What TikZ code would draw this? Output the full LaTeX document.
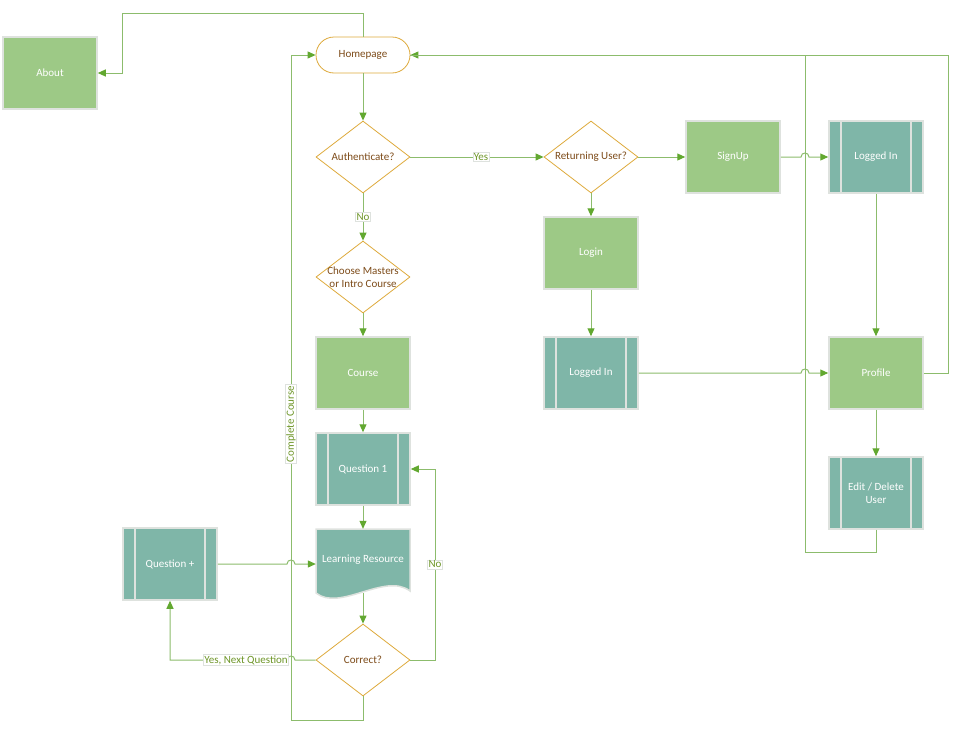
\documentclass[tikz,border=0pt]{standalone}
\usepackage{fontspec}
\setmainfont{Carlito}
\usetikzlibrary{shapes.geometric,arrows.meta}
\definecolor{boxg}{RGB}{157,201,134}
\definecolor{teal2}{RGB}{127,182,168}
\definecolor{edgeg}{RGB}{222,226,222}
\definecolor{dorange}{RGB}{222,170,60}
\definecolor{dtext}{RGB}{125,75,25}
\definecolor{lineg}{RGB}{140,188,108}
\definecolor{tipg}{RGB}{98,168,48}
\definecolor{lblc}{RGB}{110,150,40}
\begin{document}
\begin{tikzpicture}[x=1pt,y=-1pt, font=\fontsize{11}{13.5}\selectfont,
 proc/.style={rectangle, fill=boxg, draw=edgeg, line width=1.5pt, minimum width=94pt, minimum height=72pt, text=white, inner sep=1pt, align=center},
 pred/.style={proc, fill=teal2, path picture={\draw[edgeg, line width=1.3pt] ([xshift=12pt]path picture bounding box.north west) -- ([xshift=12pt]path picture bounding box.south west) ([xshift=-12pt]path picture bounding box.north east) -- ([xshift=-12pt]path picture bounding box.south east);}},
 decision/.style={diamond, aspect=1.3, draw=dorange, fill=white, line width=0.8pt, minimum width=94pt, minimum height=72pt, inner sep=0pt, text=dtext, align=center},
 term/.style={rectangle, rounded corners=18pt, draw=dorange, fill=white, line width=0.8pt, minimum width=94pt, minimum height=36pt, text=dtext},
 conn/.style={draw=lineg, line width=1pt, -{Triangle[length=8pt,width=7pt,color=tipg]}},
 plainc/.style={draw=lineg, line width=1pt},
 lbl/.style={fill=white, draw=edgeg, line width=0.6pt, inner sep=1pt, text=lblc}]
\useasboundingbox (0,0) rectangle (959,731);

% nodes
\node[proc] (about) at (50,73) {About};
\node[term] (home) at (363,55) {Homepage};
\node[decision] (auth) at (363,157) {Authenticate?};
\node[decision] (choose) at (363,277) {};
\node[align=center, text=dtext, inner sep=0pt] (choosetxt) at (choose) {Choose Masters\\or Intro Course};
\node[proc] (course) at (363,373) {Course};
\node[pred] (q1) at (363,469) {Question 1};
\path[fill=teal2, draw=edgeg, line width=1.5pt] (316,529) -- (410,529) -- (410,591) .. controls (385,572) and (340,612) .. (316,593) -- cycle;
\node[inner sep=0pt, minimum width=94pt, minimum height=64pt, text=white] (lr) at (363,561) {\raisebox{5pt}{Learning Resource}};
\node[decision] (cor) at (363,660) {Correct?};
\node[pred] (qp) at (170,564) {Question +};
\node[decision] (ret) at (591,157) {Returning User?};
\node[proc] (signup) at (733,157) {SignUp};
\node[pred] (li1) at (876,157) {Logged In};
\node[proc] (login) at (591,253) {Login};
\node[pred] (li2) at (591,373) {Logged In};
\node[proc] (profile) at (876,373) {Profile};
\node[pred] (edit) at (876,493) {Edit / Delete\\User};

% connectors
\draw[conn] (home.north) -- (363,13) -- (122,13) -- (122,73) -- (about.east);
\draw[conn] (home) -- (auth);
\draw[conn] (auth) -- node[lbl, pos=0.53] {Yes} (ret);
\draw[conn] (auth) -- node[lbl] {No} (choose);
\draw[conn] (choose) -- (course);
\draw[conn] (course) -- (q1);
\draw[conn] (q1) -- (lr);
\draw[conn] (lr.south) -- (cor.north);
\draw[conn] (cor.east) -- (435,660) -- node[lbl] {No} (435,469) -- (q1.east);
\draw[conn] (cor.west) -- (295,660) .. controls (295,654.7) and (287,654.7) .. (287,660) -- (170,660) -- (qp.south);
\node[lbl] (yesnext) at (246,660) {Yes, Next Question};
\draw[conn] (cor.south) -- (363,720) -- (291,720) -- node[lbl, rotate=90, pos=0.445] {Complete Course} (291,55) -- (home.west);
\draw[conn] (qp.east) -- (287,564) .. controls (287,558.7) and (295,558.7) .. (295,564) -- (lr.west |- qp.east);
\draw[conn] (ret) -- (signup);
\draw[conn] (ret) -- (login);
\draw[conn] (signup.east) -- (801,157) .. controls (801,151.7) and (809,151.7) .. (809,157) -- (li1.west);
\draw[conn] (li1) -- (profile);
\draw[conn] (login) -- (li2);
\draw[conn] (li2.east) -- (801,373) .. controls (801,367.7) and (809,367.7) .. (809,373) -- (profile.west);
\draw[conn] (profile.east) -- (948,373) -- (948,55) -- (home.east);
\draw[conn] (profile) -- (edit);
\draw[plainc] (edit.south) -- (876,552) -- (805,552) -- (805,55) -- (home.east);
\end{tikzpicture}
\end{document}
